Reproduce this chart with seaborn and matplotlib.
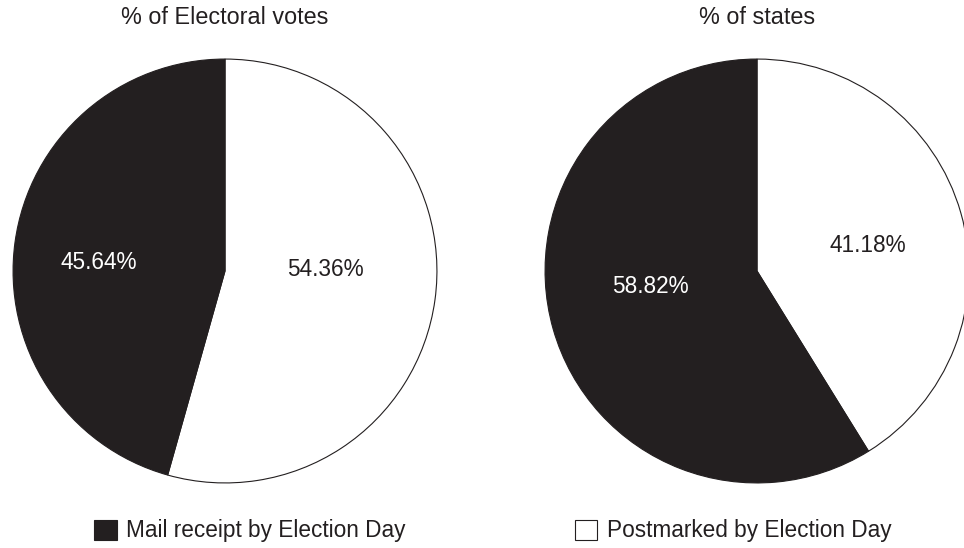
import matplotlib
matplotlib.use("Agg")
import matplotlib.pyplot as plt
from matplotlib.patches import Patch
import seaborn as sns

# Share of each deadline rule, by electoral votes and by states
categories = ["Postmarked by Election Day", "Mail receipt by Election Day"]
electoral_votes_pct = [54.36, 45.64]
states_pct = [41.18, 58.82]
titles = ["% of Electoral votes", "% of states"]

# Where each percentage label sits inside its wedge (pie radius = 1)
label_offsets = [
    [(0.474, 0.005), (-0.596, 0.042)],
    [(0.521, 0.122), (-0.502, -0.075)],
]

sns.set_theme(style="white")
plt.rcParams["font.family"] = ["Liberation Sans", "DejaVu Sans"]

ink = "#231f20"
fills = {"Postmarked by Election Day": "#ffffff",
         "Mail receipt by Election Day": ink}
label_colors = {"Postmarked by Election Day": ink,
                "Mail receipt by Election Day": "#ffffff"}

W, H = 964, 548
fig = plt.figure(figsize=(W / 100, H / 100), dpi=100)
fig.patch.set_facecolor("white")

radius_px = 213
centers = [(225, 271), (757, 271)]
series = [electoral_votes_pct, states_pct]

for (cx, cy), values, title, offsets in zip(centers, series, titles, label_offsets):
    ax = fig.add_axes([(cx - radius_px) / W, (H - cy - radius_px) / H,
                       2 * radius_px / W, 2 * radius_px / H])
    wedges, texts, autotexts = ax.pie(
        values,
        colors=[fills[c] for c in categories],
        startangle=90,
        counterclock=False,
        autopct="%.2f%%",
        pctdistance=0.6,
        radius=1.0,
        wedgeprops=dict(edgecolor=ink, linewidth=0.8),
        textprops=dict(fontsize=16.3),
    )
    for t, c, off in zip(autotexts, categories, offsets):
        t.set_color(label_colors[c])
        t.set_position(off)
    ax.set_xlim(-1.005, 1.005)
    ax.set_ylim(-1.005, 1.005)
    ax.set_aspect("equal")
    ax.axis("off")
    fig.text(cx / W, 1 - 18 / H, title, ha="center", va="center",
             fontsize=16.8, color=ink)

legend_positions = {"Mail receipt by Election Day": (250, 531),
                    "Postmarked by Election Day": (733, 531)}
for cat, (lx, ly) in legend_positions.items():
    handle = Patch(facecolor=fills[cat], edgecolor=ink, linewidth=0.8)
    leg = fig.legend(handles=[handle], labels=[cat], loc="center",
                     bbox_to_anchor=(lx / W, 1 - ly / H), frameon=False,
                     fontsize=16.3, handlelength=1.0, handleheight=1.0,
                     handletextpad=0.4, borderpad=0)
    for t in leg.get_texts():
        t.set_color(ink)

fig.savefig("out.png", dpi=100, facecolor="white")
